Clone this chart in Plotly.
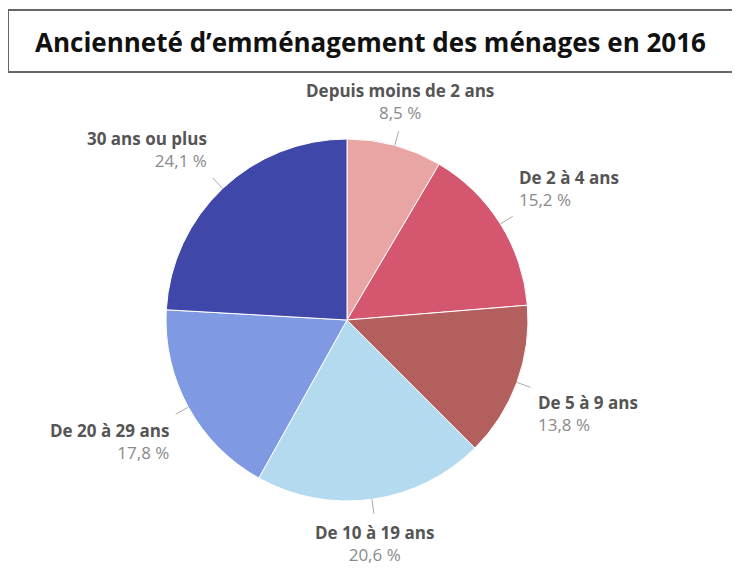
import math
import plotly.graph_objects as go

# Data
categories = [
    'Depuis moins de 2 ans',
    'De 2 à 4 ans',
    'De 5 à 9 ans',
    'De 10 à 19 ans',
    'De 20 à 29 ans',
    '30 ans ou plus',
]
shares = [8.5, 15.2, 13.8, 20.6, 17.8, 24.1]
value_labels = ['8,5 %', '15,2 %', '13,8 %', '20,6 %', '17,8 %', '24,1 %']
colors = ['#e9a5a3', '#d5566f', '#b35f5e', '#b4daf0', '#7f9ae3', '#3f47a8']

W, H = 740, 572
OFF = 8  # page body margin shifts the figure by 8px
CX, CY, R = 347, 320, 181  # pie centre / radius in pixels (from top-left)


def px(x, y):
    """screen pixel (from top-left) -> paper coords"""
    return (x - OFF) / W, 1 - (y - OFF) / H


dx0, dy0 = px(CX - R, CY + R)
dx1, dy1 = px(CX + R, CY - R)

fig = go.Figure(go.Pie(
    labels=categories,
    values=shares,
    sort=False,
    direction='clockwise',
    rotation=0,
    marker=dict(colors=colors, line=dict(color='white', width=1)),
    textinfo='none',
    hoverinfo='label+percent',
    domain=dict(x=[dx0, dx1], y=[dy0, dy1]),
    showlegend=False,
))

# outside labels with short leader lines, placed from each slice's mid angle
total = sum(shares)
cum = 0
for name, val, vlab in zip(categories, shares, value_labels):
    mid = (cum + val / 2) / total * 2 * math.pi
    cum += val
    s, c = math.sin(mid), math.cos(mid)
    x0, y0 = px(CX + R * 1.0 * s, CY - R * 1.0 * c)
    x1, y1 = px(CX + R * 1.08 * s, CY - R * 1.08 * c)
    fig.add_shape(type='line', xref='paper', yref='paper',
                  x0=x0, y0=y0, x1=x1, y1=y1,
                  line=dict(color='#aaaaaa', width=1))
    xa = 'center' if abs(s) < 0.3 else ('left' if s > 0 else 'right')
    ya = 'middle' if abs(c) < 0.3 else ('bottom' if c > 0 else 'top')
    tx, ty = px(CX + R * 1.11 * s, CY - R * 1.11 * c)
    fig.add_annotation(
        x=tx, y=ty, xref='paper', yref='paper',
        xanchor=xa, yanchor=ya, align=xa,
        showarrow=False,
        text=f"<b>{name}</b><br><span style='color:#8a8a8a'>{vlab}</span>",
        font=dict(family='Open Sans', size=17, color='#555555'),
    )

# boxed title
bx0, by0 = px(8, 10)
bx1, by1 = px(W + 20, 72)
fig.add_shape(type='rect', xref='paper', yref='paper',
              x0=bx0, y0=by0, x1=bx1, y1=by1,
              line=dict(color='#666666', width=2))
tx, ty = px(33, 42)
fig.add_annotation(
    x=tx, y=ty, xref='paper', yref='paper', xanchor='left', yanchor='middle',
    showarrow=False,
    text='<b>Ancienneté d’emménagement des ménages en 2016</b>',
    font=dict(family='Open Sans', size=26, color='#111111'),
)

fig.update_layout(
    width=W, height=H,
    margin=dict(l=0, r=0, t=0, b=0),
    paper_bgcolor='white',
    plot_bgcolor='white',
)

fig.write_html('out.html')
